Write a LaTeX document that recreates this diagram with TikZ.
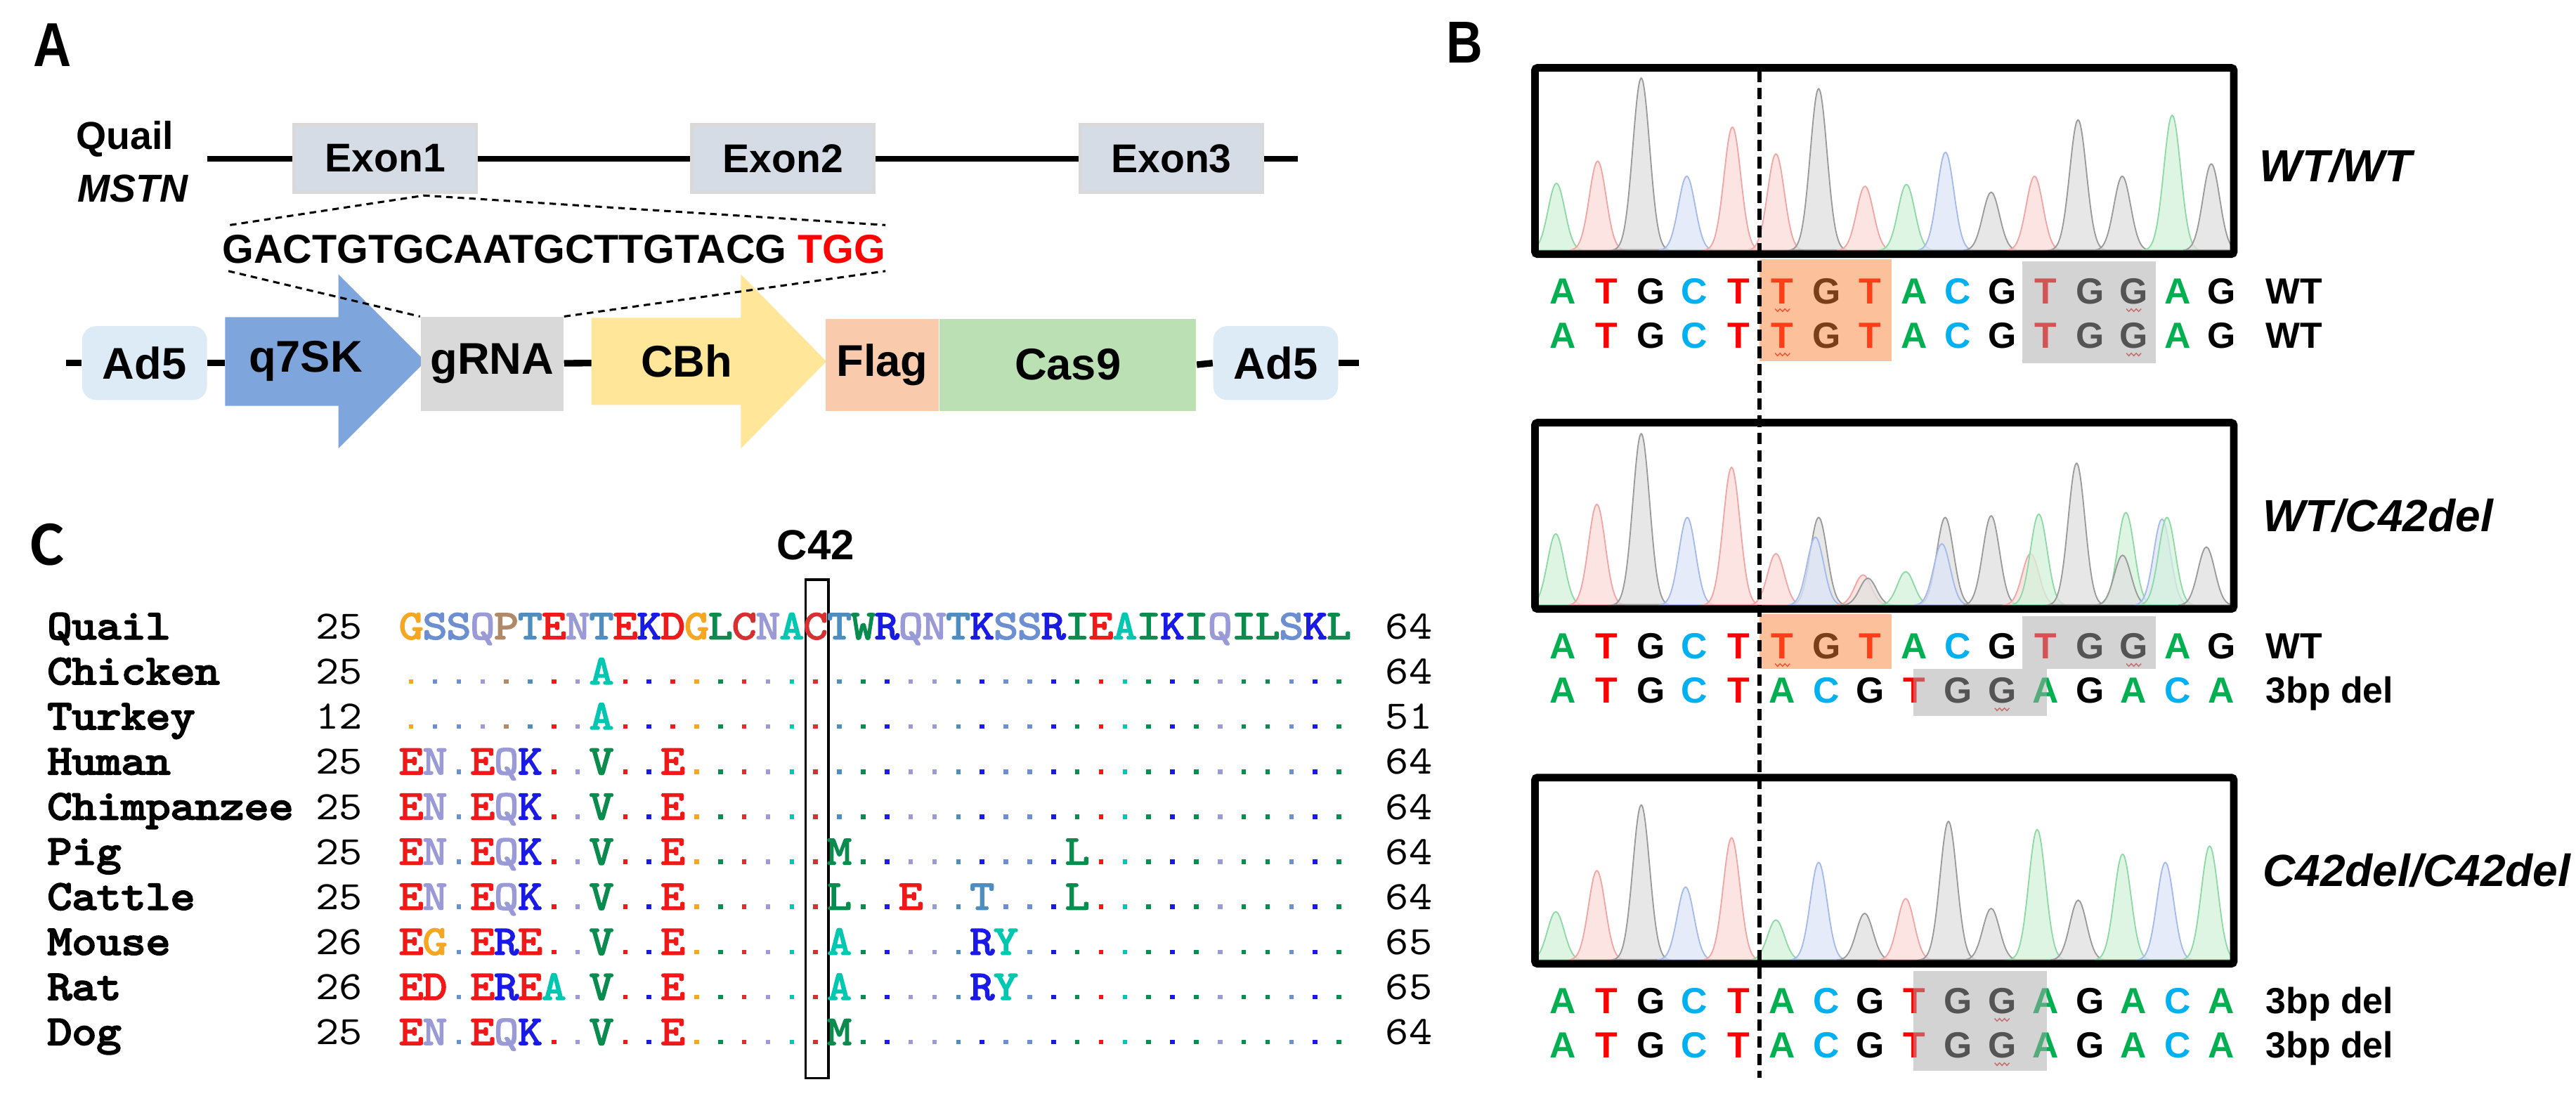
\documentclass[tikz,border=0pt]{standalone}
\usepackage{fontspec}
\setmainfont{Liberation Sans}
\newfontfamily\narrowfam[FakeStretch=0.85]{Liberation Sans}
\newfontfamily\carlfam{Carlito}
\newfontfamily\ttbold[FakeBold=4,FakeStretch=1.12]{lmmono10-regular.otf}
\newfontfamily\ttres[FakeBold=3,FakeStretch=1.12]{lmmono10-regular.otf}
\newfontfamily\ttnum[FakeStretch=1.1]{lmmono10-regular.otf}
\newcommand\fsz[1]{\fontsize{#1}{#1}\selectfont}
% panel A colours
\definecolor{exfill}{HTML}{D6DCE5}
\definecolor{exline}{HTML}{D9D9D9}
\definecolor{adfill}{HTML}{DDEBF7}
\definecolor{q7fill}{HTML}{7FA6DC}
\definecolor{grfill}{HTML}{D9D9D9}
\definecolor{cbfill}{HTML}{FFE699}
\definecolor{flfill}{HTML}{F9CBAC}
\definecolor{csfill}{HTML}{BBE0B3}
\definecolor{seqred}{HTML}{FF0000}
% residue colours
\definecolor{aaG}{HTML}{F5A623}
\definecolor{aaS}{HTML}{6B8FD0}
\definecolor{aaT}{HTML}{4F8DC0}
\definecolor{aaQ}{HTML}{9A9AD6}
\definecolor{aaN}{HTML}{9A9AD6}
\definecolor{aaP}{HTML}{B08A68}
\definecolor{aaE}{HTML}{F01818}
\definecolor{aaD}{HTML}{F01818}
\definecolor{aaK}{HTML}{1A1AE6}
\definecolor{aaR}{HTML}{1A1AE6}
\definecolor{aaL}{HTML}{0A8C4E}
\definecolor{aaI}{HTML}{0A8C4E}
\definecolor{aaW}{HTML}{0A8C4E}
\definecolor{aaV}{HTML}{0A8C4E}
\definecolor{aaM}{HTML}{0A8C4E}
\definecolor{aaA}{HTML}{00C8B0}
\definecolor{aaY}{HTML}{00C8B0}
\definecolor{aaC}{HTML}{D83030}
% nucleotide colours
\definecolor{ntA}{HTML}{00B050}
\definecolor{ntT}{HTML}{FF0000}
\definecolor{ntG}{HTML}{000000}
\definecolor{ntC}{HTML}{00B0F0}
% peaks
\definecolor{pfg}{HTML}{D4F2DC}\definecolor{pdg}{HTML}{8ED9A5}
\definecolor{pfr}{HTML}{FCDCDA}\definecolor{pdr}{HTML}{F2A5A5}
\definecolor{pfk}{HTML}{E0E0E0}\definecolor{pdk}{HTML}{9A9A9A}
\definecolor{pfb}{HTML}{DDE5F8}\definecolor{pdb}{HTML}{A5B9EA}
\definecolor{hlor}{HTML}{F97F35}
\definecolor{hlgr}{HTML}{A8A8A8}
\definecolor{sqred}{HTML}{E03030}
\foreach \ch [count=\ii from 0] in {G,S,S,Q,P,T,E,N,T,E,K,D,G,L,C,N,A,C,T,W,R,Q,N,T,K,S,S,R,I,E,A,I,K,I,Q,I,L,S,K,L} {\xglobal\colorlet{col\ii}{aa\ch}}
\def\dotchar{o}
\newcommand\resrow[2]{%
  \pgfmathsetmacro\yy{389+27.44*#1}%
  \foreach \rr [count=\ii from 0] in {#2} {%
    \pgfmathsetmacro\xx{250.3+14.48*\ii}%
    \ifx\rr\dotchar
      \fill[col\ii] (\xx-1.4,\yy-3) rectangle (\xx+1.4,\yy-0.2);
    \else
      \node[anchor=base, inner sep=0, font=\ttres\fsz{14.5pt}, text=aa\rr] (r#1c\ii) at (\xx,\yy) {\rr};
    \fi}}
\newcommand\seqrow[4]{%
  \foreach \bb [count=\kk from 0] in {#3} {%
    \pgfmathsetmacro\xx{951.3+26.73*\kk}%
    \node[anchor=base, inner sep=0, font=\bfseries\fsz{12.6pt}, text=nt\bb] (#1c\kk) at (\xx,#2) {\bb};}%
  \node[anchor=base west, inner sep=0, font=\bfseries\fsz{12.6pt}] (#1lab) at (1379,#2) {#4};}
\newcommand\pk[4]{%
  \pgfmathsetmacro\pka{#2-17}\pgfmathsetmacro\pkb{#2+17}%
  \filldraw[fill=pf#4, draw=pd#4, line width=0.45pt, fill opacity=0.75]
    plot[domain=\pka:\pkb, samples=35, smooth] (\x,{#1-(#1-#3)*exp(-((\x-#2)/7.2)^2)}) -- cycle;}
\newcommand\sq[2]{\draw[sqred, line width=0.35pt] (#1-4.5,#2) -- ++(1.5,1.6) -- ++(1.5,-1.6) -- ++(1.5,1.6) -- ++(1.5,-1.6) -- ++(1.5,1.6) -- ++(1.5,-1.6);}

\begin{document}
\begin{tikzpicture}[x=0.02cm, y=-0.02cm,
  lbl/.style={inner sep=0},
  exonbox/.style={draw=exline, fill=exfill, line width=0.04cm, minimum width=2.22cm, minimum height=0.82cm, inner sep=0, font=\bfseries\fsz{13.9pt}},
  partbox/.style={inner sep=0, font=\bfseries\fsz{15.4pt}},
  adbox/.style={partbox, fill=adfill, rounded corners=0.17cm, minimum width=1.52cm, minimum height=0.9cm},
  geneline/.style={line width=0.07cm},
  cline/.style={line width=0.08cm},
  dsh/.style={line width=0.026cm, dash pattern=on 0.08cm off 0.06cm},
  chrombox/.style={draw, line width=0.092cm, rounded corners=0.03cm, minimum width=8.508cm, minimum height=2.268cm, inner sep=0},
  genolab/.style={inner sep=0, anchor=west, font=\bfseries\itshape\fsz{15.6pt}},
  hlo/.style={fill=hlor, fill opacity=0.49},
  hlg/.style={fill=hlgr, fill opacity=0.5}]
\useasboundingbox (0,0) rectangle (1568,670);
\fill[white] (0,0) rectangle (1568,670);

% ================= Panel A =================
\node[lbl, font=\narrowfam\bfseries\fsz{21.5pt}] (labA) at (32,27.5) {A};
\node[lbl, anchor=base west, font=\bfseries\fsz{13.5pt}] (quail) at (46,91) {Quail};
\node[lbl, anchor=base west, font=\bfseries\itshape\fsz{13.5pt}] (mstn) at (47,123) {MSTN};
\coordinate (gls) at (126,96.5);
\coordinate (gle) at (790,96.5);
\node[exonbox] (ex1) at (234.5,96.5) {Exon1};
\node[exonbox] (ex2) at (476.5,96.5) {Exon2};
\node[exonbox] (ex3) at (713,96.5) {Exon3};
\draw[geneline] (gls) -- (ex1);
\draw[geneline] (ex1) -- (ex2);
\draw[geneline] (ex2) -- (ex3);
\draw[geneline] (ex3) -- (gle);

\node[lbl, anchor=base west, font=\bfseries\fsz{14pt}] (grnaseq) at (135,160) {GACTGTGCAATGCTTGTACG \textcolor{seqred}{TGG}};

% construct
\coordinate (cls) at (40,221);
\coordinate (cle) at (827,221);
\node[adbox] (ad5l) at (88,221) {Ad5};
\fill[q7fill] (137,193) -- (206,193) -- (206,167) -- (259,220) -- (206,273) -- (206,247) -- (137,247) -- cycle;
\coordinate (q7s) at (137,221);
\node[partbox] (q7) at (186,220) {q7SK};
\node[partbox, fill=grfill, minimum width=1.74cm, minimum height=1.14cm] (grna) at (299.5,221.5) {gRNA};
\fill[cbfill] (360,193.5) -- (451,193.5) -- (451,167) -- (503,220) -- (451,273) -- (451,246.5) -- (360,246.5) -- cycle;
\coordinate (cbs) at (360,221);
\node[partbox] (cbh) at (418,220) {CBh};
\node[partbox, fill=flfill, minimum width=1.38cm, minimum height=1.12cm] (flag) at (537,222) {Flag};
\node[partbox, fill=csfill, minimum width=3.126cm, minimum height=1.12cm] (cas9) at (650,222) {Cas9};
\node[adbox] (ad5r) at (776.5,221) {Ad5};
\draw[cline] (cls) -- (ad5l);
\draw[cline] (ad5l) -- (q7s);
\draw[cline] (grna) -- (cbs);
\draw[cline] (cas9.east) -- (ad5r.west);
\draw[cline] (ad5r) -- (cle);

% dashed zoom lines
\coordinate (ul) at (140,137);
\coordinate (apex) at (258,119);
\coordinate (ur) at (539,137);
\coordinate (ll) at (139,165);
\coordinate (lr) at (539,165);
\draw[dsh] (ul) -- (apex) -- (ur);
\draw[dsh] (ll) -- (grna.north west);
\draw[dsh] (grna.north east) -- (lr);

% ================= Panel C =================
\node[lbl, font=\carlfam\bfseries\fsz{22pt}] (labC) at (29,331.5) {C};
\node[lbl, font=\bfseries\fsz{14.6pt}] (c42) at (496.5,332) {C42};
\node[draw, line width=0.03cm, minimum width=0.28cm, minimum height=6.07cm, inner sep=0] (c42box) at (497.3,504.5) {};
\foreach \nm/\st/\en [count=\ii from 0] in {Quail/25/64,Chicken/25/64,Turkey/12/51,Human/25/64,Chimpanzee/25/64,Pig/25/64,Cattle/25/64,Mouse/26/65,Rat/26/65,Dog/25/64} {
  \pgfmathsetmacro\yy{389+27.44*\ii}
  \node[lbl, anchor=base west, font=\ttbold\fsz{14.5pt}] (sp\ii) at (28.5,\yy) {\nm};
  \node[lbl, anchor=base west, font=\ttnum\fsz{14pt}] (st\ii) at (192,\yy) {\st};
  \node[lbl, anchor=base west, font=\ttnum\fsz{14pt}] (en\ii) at (843,\yy) {\en};
}
\resrow{0}{G,S,S,Q,P,T,E,N,T,E,K,D,G,L,C,N,A,C,T,W,R,Q,N,T,K,S,S,R,I,E,A,I,K,I,Q,I,L,S,K,L}
\resrow{1}{o,o,o,o,o,o,o,o,A,o,o,o,o,o,o,o,o,o,o,o,o,o,o,o,o,o,o,o,o,o,o,o,o,o,o,o,o,o,o,o}
\resrow{2}{o,o,o,o,o,o,o,o,A,o,o,o,o,o,o,o,o,o,o,o,o,o,o,o,o,o,o,o,o,o,o,o,o,o,o,o,o,o,o,o}
\resrow{3}{E,N,o,E,Q,K,o,o,V,o,o,E,o,o,o,o,o,o,o,o,o,o,o,o,o,o,o,o,o,o,o,o,o,o,o,o,o,o,o,o}
\resrow{4}{E,N,o,E,Q,K,o,o,V,o,o,E,o,o,o,o,o,o,o,o,o,o,o,o,o,o,o,o,o,o,o,o,o,o,o,o,o,o,o,o}
\resrow{5}{E,N,o,E,Q,K,o,o,V,o,o,E,o,o,o,o,o,o,M,o,o,o,o,o,o,o,o,o,L,o,o,o,o,o,o,o,o,o,o,o}
\resrow{6}{E,N,o,E,Q,K,o,o,V,o,o,E,o,o,o,o,o,o,L,o,o,E,o,o,T,o,o,o,L,o,o,o,o,o,o,o,o,o,o,o}
\resrow{7}{E,G,o,E,R,E,o,o,V,o,o,E,o,o,o,o,o,o,A,o,o,o,o,o,R,Y,o,o,o,o,o,o,o,o,o,o,o,o,o,o}
\resrow{8}{E,D,o,E,R,E,A,o,V,o,o,E,o,o,o,o,o,o,A,o,o,o,o,o,R,Y,o,o,o,o,o,o,o,o,o,o,o,o,o,o}
\resrow{9}{E,N,o,E,Q,K,o,o,V,o,o,E,o,o,o,o,o,o,M,o,o,o,o,o,o,o,o,o,o,o,o,o,o,o,o,o,o,o,o,o}

% ================= Panel B =================
\node[lbl, font=\narrowfam\bfseries\fsz{20.5pt}] (labB) at (891.5,26) {B};
% peaks
\begin{scope}
\clip (934,41) rectangle (1360,155);
\foreach \cc/\tp/\kc in {947.4/111.6/g,972.5/98.1/r,999/47.5/k,1026.7/107.3/b,1054.5/77.4/r,1081/93.7/r,1107/54/k,1135.2/113.4/r,1160.4/112.3/g,1184.2/92.7/b,1212/117/k,1238.4/107.3/r,1264.9/73/k,1291.8/107.3/k,1322.2/70.2/g,1346/99.8/k}
  {\pk{152.5}{\cc}{\tp}{\kc}}
\end{scope}
\begin{scope}
\clip (934,257) rectangle (1360,371);
\foreach \cc/\tp/\kc in {947/325/g,972/307/r,999/264/k,1027/315/b,1054/284.5/r,1081/337/r,1107/315/k,1105/327/b,1134/350/r,1137/352/k,1160/348/g,1184/315/k,1182/331/b,1212/314/k,1236/337/r,1241/313/g,1264/282/k,1294/312/g,1292/338/k,1316/316/b,1319/315/g,1343/333/k}
  {\pk{368.5}{\cc}{\tp}{\kc}}
\end{scope}
\begin{scope}
\clip (934,473) rectangle (1360,587);
\foreach \cc/\tp/\kc in {947/555/g,972/530/r,999/490/k,1026/540/b,1054/510/r,1081/560/g,1107/525/b,1135/556/k,1160/547/r,1186/500/k,1212/553/k,1240/505/g,1265/548/k,1292/520/g,1318/525/b,1345/515/g}
  {\pk{584.5}{\cc}{\tp}{\kc}}
\end{scope}
\node[chrombox] (box1) at (1147,98) {};
\node[chrombox] (box2) at (1147,314) {};
\node[chrombox] (box3) at (1147,530) {};
\node[genolab] (g1) at (1375,101) {WT/WT};
\node[genolab] (g2) at (1377,314) {WT/C42del};
\node[genolab] (g3) at (1377,530) {C42del/C42del};

% sequences
\seqrow{sa}{185}{A,T,G,C,T,T,G,T,A,C,G,T,G,G,A,G}{WT}
\seqrow{sb}{212}{A,T,G,C,T,T,G,T,A,C,G,T,G,G,A,G}{WT}
\seqrow{sc}{401}{A,T,G,C,T,T,G,T,A,C,G,T,G,G,A,G}{WT}
\seqrow{sd}{428}{A,T,G,C,T,A,C,G,T,G,G,A,G,A,C,A}{3bp del}
\seqrow{se}{617}{A,T,G,C,T,A,C,G,T,G,G,A,G,A,C,A}{3bp del}
\seqrow{sf}{644}{A,T,G,C,T,A,C,G,T,G,G,A,G,A,C,A}{3bp del}
% squiggles
\sq{1085}{188}\sq{1298.8}{188}
\sq{1085}{215}\sq{1298.8}{215}
\sq{1085}{404}\sq{1298.8}{404}
\sq{1218.6}{431}
\sq{1218.6}{620}\sq{1218.6}{647}
% highlights
\fill[hlo] (1071,158) rectangle (1151.5,220);
\fill[hlg] (1231,159) rectangle (1312,221);
\fill[hlo] (1071,374) rectangle (1151.5,407);
\fill[hlg] (1231,375) rectangle (1312,407);
\fill[hlg] (1164.5,407) rectangle (1246,436);
\fill[hlg] (1164.5,591) rectangle (1246,652);
% cut site dashed line
\coordinate (cuttop) at (1071,43);
\coordinate (cutbot) at (1071,656);
\draw[line width=0.05cm, dash pattern=on 0.14cm off 0.07cm] (cuttop) -- (cutbot);
\end{tikzpicture}
\end{document}
